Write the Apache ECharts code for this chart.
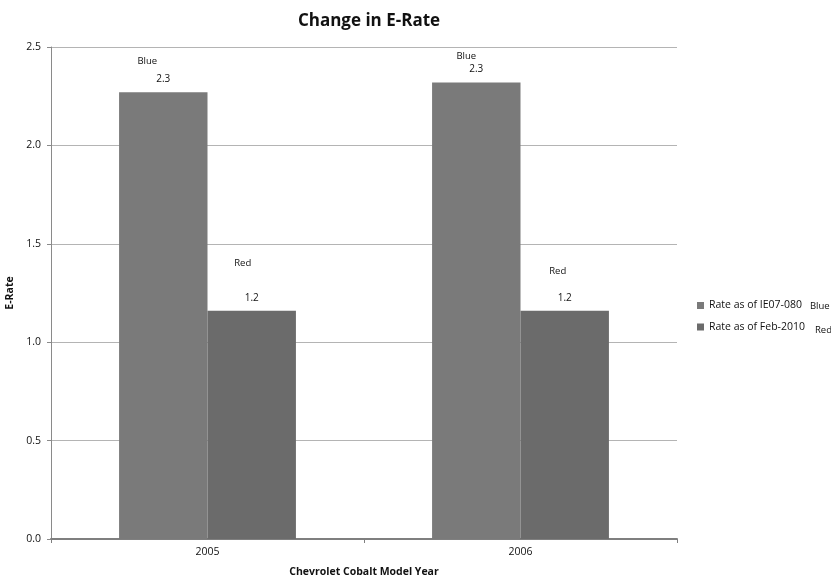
<!DOCTYPE html>
<html>
<head>
<meta charset="utf-8">
<script src="https://cdn.jsdelivr.net/npm/echarts@6/dist/echarts.min.js"></script>
<style>html,body{margin:0;padding:0;background:#fff}#c{width:831px;height:577px}</style>
</head>
<body>
<div id="c"></div>
<script>
const categories = ['2005', '2006'];
const seriesNames = ['Rate as of IE07-080', 'Rate as of Feb-2010'];
const seriesTags = ['Blue', 'Red'];
const blueValues = [2.27, 2.32];
const redValues = [1.16, 1.16];
const yTicks = [0, 0.5, 1.0, 1.5, 2.0, 2.5];

const FONT = 'Open Sans';
const colors = ['#7a7a7a', '#6b6b6b'];
// styling: per-bar tag placement (line height, left shift)
const tagStyle = [
  [{ lh: 22, dx: 16 }, { lh: 12, dx: 10 }],
  [{ lh: 54, dx: 9 }, { lh: 38, dx: 7 }]
];

function makeData(values, si) {
  return values.map((v, i) => ({
    value: v,
    label: {
      show: true,
      position: 'top',
      distance: 6,
      formatter: p => '{n|' + seriesTags[si] + '}\n{v|' + p.value.toFixed(1) + '}',
      rich: {
        n: { fontFamily: FONT, fontSize: 9.5, color: '#111', lineHeight: tagStyle[si][i].lh, padding: [0, 2 * tagStyle[si][i].dx, 0, 0] },
        v: { fontFamily: FONT, fontSize: 10, color: '#111', lineHeight: 14 }
      }
    }
  }));
}

const chart = echarts.init(document.getElementById('c'), null, { renderer: 'canvas' });
chart.setOption({
  animation: false,
  backgroundColor: '#fff',
  title: {
    text: 'Change in E-Rate',
    left: 364, top: 8, textAlign: 'center',
    textStyle: { fontFamily: FONT, fontSize: 17, fontWeight: 'bold', color: '#111' }
  },
  legend: {
    orient: 'vertical',
    left: 692, top: 295,
    itemWidth: 7, itemHeight: 7, itemGap: 10,
    icon: 'rect',
    data: seriesNames,
    formatter: name => {
      const i = seriesNames.indexOf(name);
      return '{n|' + name + '}{t' + i + '|' + seriesTags[i] + '}';
    },
    textStyle: {
      fontFamily: FONT, fontSize: 10.5, color: '#111',
      rich: {
        n: { fontFamily: FONT, fontSize: 10.5, color: '#111' },
        t0: { fontFamily: FONT, fontSize: 9.5, color: '#111', padding: [2, 0, 0, 8] },
        t1: { fontFamily: FONT, fontSize: 9.5, color: '#111', padding: [6, 0, 0, 10] }
      }
    }
  },
  grid: { left: 51, right: 154, top: 47, bottom: 38, containLabel: false, outerBoundsMode: 'none' },
  xAxis: {
    type: 'category',
    data: categories,
    name: 'Chevrolet Cobalt Model Year',
    nameLocation: 'middle',
    nameGap: 28,
    nameTextStyle: { fontFamily: FONT, fontSize: 10.5, fontWeight: 'bold', color: '#111' },
    axisLine: { lineStyle: { color: '#7f7f7f', width: 2 } },
    axisTick: { show: true, length: 4, lineStyle: { color: '#7f7f7f' } },
    axisLabel: { fontFamily: FONT, fontSize: 10.5, color: '#111', margin: 8 }
  },
  yAxis: {
    type: 'value',
    min: 0, max: 2.5, interval: 0.5,
    name: 'E-Rate',
    nameLocation: 'middle',
    nameGap: 12,
    nameRotate: 90,
    nameTextStyle: { fontFamily: FONT, fontSize: 10.5, fontWeight: 'bold', color: '#111' },
    axisLine: { show: true, lineStyle: { color: '#8a8a8a', width: 1 } },
    axisTick: { show: true, length: 4, lineStyle: { color: '#8a8a8a' } },
    axisLabel: {
      fontFamily: FONT, fontSize: 10.5, color: '#111', margin: 10,
      formatter: v => yTicks.includes(v) ? v.toFixed(1) : ''
    },
    splitLine: { show: true, lineStyle: { color: '#b4b4b4', width: 1 } }
  },
  series: [
    {
      name: seriesNames[0], type: 'bar',
      data: makeData(blueValues, 0),
      itemStyle: { color: colors[0] },
      barGap: '0%', barCategoryGap: '43.5%'
    },
    {
      name: seriesNames[1], type: 'bar',
      data: makeData(redValues, 1),
      itemStyle: { color: colors[1] },
      barGap: '0%', barCategoryGap: '43.5%'
    }
  ]
});
</script>
</body>
</html>
